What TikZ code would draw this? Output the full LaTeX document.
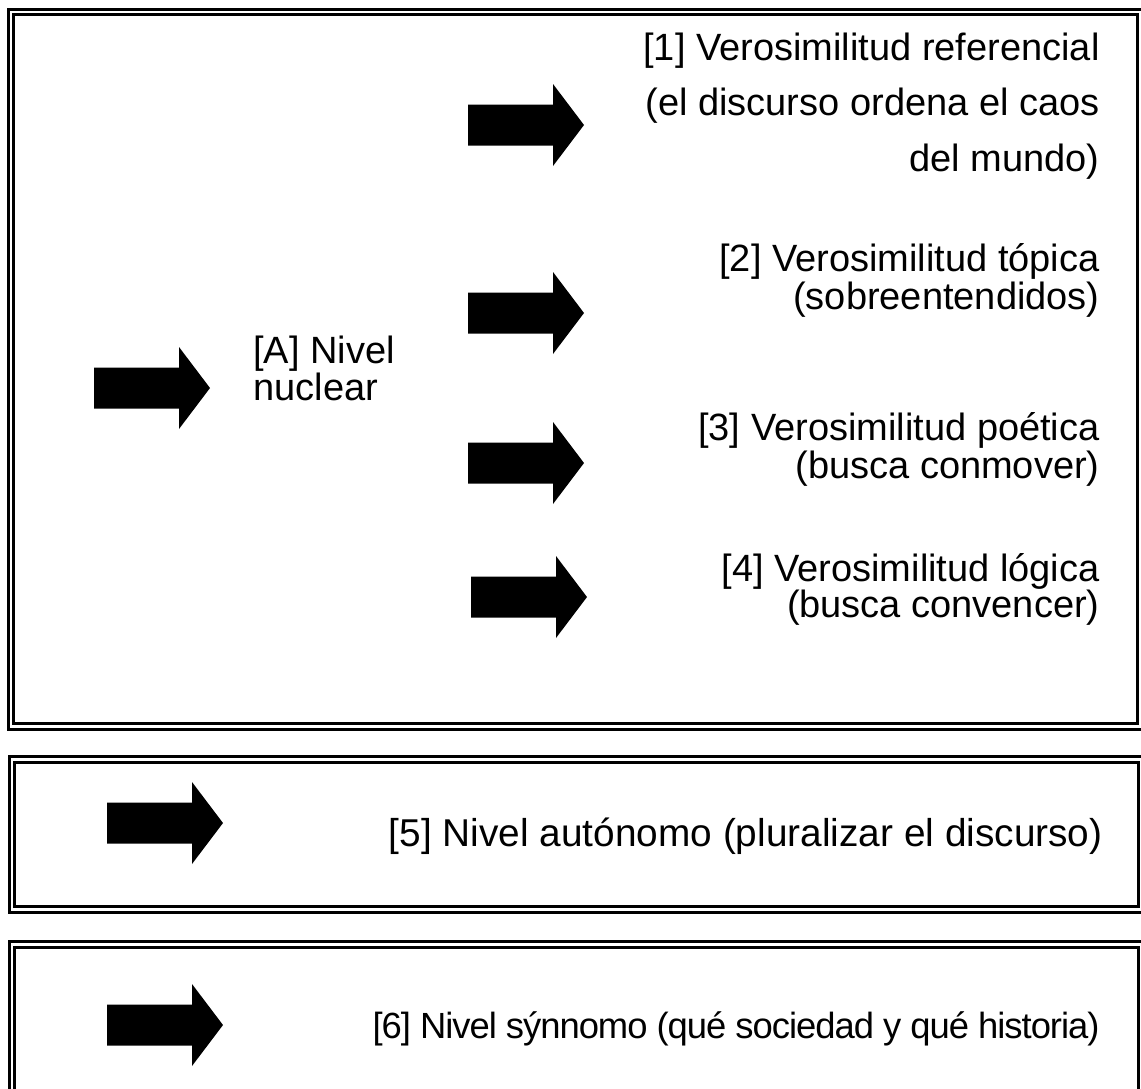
\documentclass[tikz,border=0pt]{standalone}
\usepackage{fontspec}
\setmainfont{Liberation Sans}
\newfontfamily\tightsans[LetterSpace=-2.8]{Liberation Sans}
\begin{document}
\begin{tikzpicture}[x=0.5pt,y=-0.5pt,
  frameline/.style={draw=black,line width=1.5pt},
  blockarrow/.pic={\fill[black] (0,-20.5) -- (85,-20.5) -- (85,-41) -- (116,0) -- (85,41) -- (85,20.5) -- (0,20.5) -- cycle;},
  lbl/.style={inner sep=0pt,font=\fontsize{19}{19}\selectfont}]
\useasboundingbox (0,0) rectangle (1141,1088);
\clip (0,0) rectangle (1141,1088);
% box 1
\draw[frameline] (8,9) rectangle (1142,729);
\draw[frameline] (13.5,14.7) rectangle (1137.5,723);
% box 2
\draw[frameline] (9.5,756) rectangle (1145,912);
\draw[frameline] (14.7,762) rectangle (1138,906);
% box 3
\draw[frameline] (9.5,941) rectangle (1145,1110);
\draw[frameline] (14.7,947) rectangle (1138,1104);
% arrows
\pic at (94,388) {blockarrow};
\pic at (468,125) {blockarrow};
\pic at (468,313) {blockarrow};
\pic at (468,463) {blockarrow};
\pic at (471,597) {blockarrow};
\pic at (107,823) {blockarrow};
\pic at (107,1025) {blockarrow};
% texts
\node[lbl,align=left,anchor=north west,font=\fontsize{19}{17.5}\selectfont] (tA) at (253,333) {\rule{0pt}{15pt}[A] Nivel\\nuclear};
\node[lbl,align=right,anchor=north east,font=\fontsize{19}{27.75}\selectfont] (t1) at (1100,30) {\rule{0pt}{15pt}[1] Verosimilitud referencial\\(el discurso ordena el caos\\del mundo)};
\node[lbl,align=right,anchor=north east,font=\fontsize{19}{19}\selectfont] (t2) at (1100,241) {\rule{0pt}{15pt}[2] Verosimilitud tópica\\(sobreentendidos)};
\node[lbl,align=right,anchor=north east,font=\fontsize{19}{19}\selectfont] (t3) at (1100,410) {\rule{0pt}{15pt}[3] Verosimilitud poética\\(busca conmover)};
\node[lbl,align=right,anchor=north east,font=\fontsize{19}{18}\selectfont] (t4) at (1100,551) {\rule{0pt}{15pt}[4] Verosimilitud lógica\\(busca convencer)};
\node[lbl,anchor=base east,font=\fontsize{19.4}{19.4}\selectfont] (t5) at (1103,846) {[5] Nivel autónomo (pluralizar el discurso)};
\node[lbl,anchor=base east,font=\tightsans\fontsize{18.2}{18.2}\selectfont] (t6) at (1100,1038) {[6] Nivel sýnnomo (qué sociedad y qué historia)};
\end{tikzpicture}
\end{document}
